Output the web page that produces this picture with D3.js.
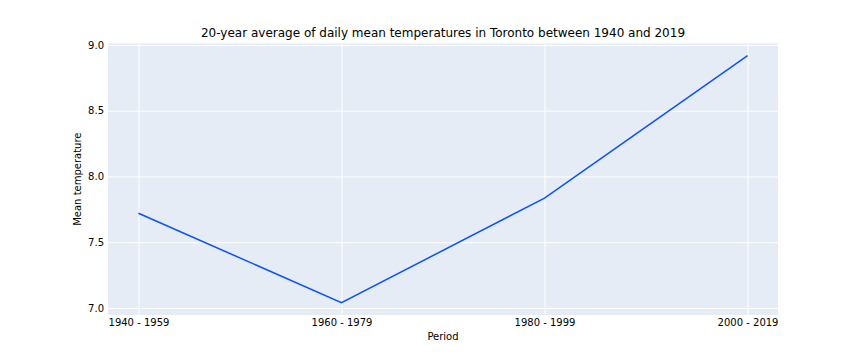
<!DOCTYPE html>
<html>
  <head>
    <meta charset="UTF-8" />
    <title>Toronto mean temperatures</title>
    <script src="https://d3js.org/d3.v7.min.js"></script>
    <style>
      body { margin: 0; background: #fff; }
      text { fill: #000; }
      .tick text { font-family: "DejaVu Sans", sans-serif; font-size: 10px; }
    </style>
  </head>
  <body>
    <div id="chart"></div>
    <script>
      // periods (x categories) and their 20-year mean temperatures
      var periods = ["1940 - 1959", "1960 - 1979", "1980 - 1999", "2000 - 2019"];
      var meanTemps = [7.72, 7.04, 7.835, 8.919];
      var yTicks = [7.0, 7.5, 8.0, 8.5, 9.0];

      var width = 864, height = 360;
      var margin = { top: 43.3, right: 86, bottom: 45, left: 108 };

      var svg = d3.select("#chart")
        .append("svg")
        .attr("width", width)
        .attr("height", height);

      // matplotlib-like 5% padding on both axes
      var n = periods.length;
      var xPad = (n - 1) * 0.05;
      var x = d3.scaleLinear()
        .domain([-xPad, n - 1 + xPad])
        .range([margin.left, width - margin.right]);

      var yMin = d3.min(meanTemps), yMax = d3.max(meanTemps);
      var yPad = (yMax - yMin) * 0.05;
      var y = d3.scaleLinear()
        .domain([yMin - yPad, yMax + yPad])
        .range([height - margin.bottom, margin.top]);

      // plot background
      svg.append("rect")
        .attr("x", margin.left)
        .attr("y", margin.top)
        .attr("width", width - margin.left - margin.right)
        .attr("height", height - margin.top - margin.bottom)
        .attr("fill", "#e5ecf6");

      // x axis with white gridlines
      var xAxis = svg.append("g")
        .attr("transform", "translate(0," + (height - margin.bottom) + ")")
        .call(d3.axisBottom(x)
          .tickValues(d3.range(n))
          .tickFormat((d) => periods[d])
          .tickSize(-(height - margin.top - margin.bottom))
          .tickPadding(4));
      xAxis.select(".domain").remove();
      xAxis.selectAll(".tick line").attr("stroke", "#fff").attr("stroke-width", 1);

      // y axis with white gridlines
      var yAxis = svg.append("g")
        .attr("transform", "translate(" + margin.left + ",0)")
        .call(d3.axisLeft(y)
          .tickValues(yTicks)
          .tickFormat(d3.format(".1f"))
          .tickSize(-(width - margin.left - margin.right))
          .tickPadding(4));
      yAxis.select(".domain").remove();
      yAxis.selectAll(".tick line").attr("stroke", "#fff").attr("stroke-width", 1);

      // the line
      var line = d3.line()
        .x((d, i) => x(i))
        .y((d) => y(d));

      svg.append("path")
        .datum(meanTemps)
        .attr("fill", "none")
        .attr("stroke", "#0a50ff")
        .attr("stroke-width", 1.5)
        .attr("d", line);

      // title and axis labels
      svg.append("text")
        .attr("x", (margin.left + width - margin.right) / 2)
        .attr("y", 37)
        .attr("text-anchor", "middle")
        .style("font-family", "DejaVu Sans, sans-serif")
        .style("font-size", "12px")
        .text("20-year average of daily mean temperatures in Toronto between 1940 and 2019");

      svg.append("text")
        .attr("x", (margin.left + width - margin.right) / 2)
        .attr("y", 340)
        .attr("text-anchor", "middle")
        .style("font-family", "DejaVu Sans, sans-serif")
        .style("font-size", "10px")
        .text("Period");

      svg.append("text")
        .attr("transform", "translate(81," + ((margin.top + height - margin.bottom) / 2) + ") rotate(-90)")
        .attr("text-anchor", "middle")
        .style("font-family", "DejaVu Sans, sans-serif")
        .style("font-size", "10px")
        .text("Mean temperature");
    </script>
  </body>
</html>
